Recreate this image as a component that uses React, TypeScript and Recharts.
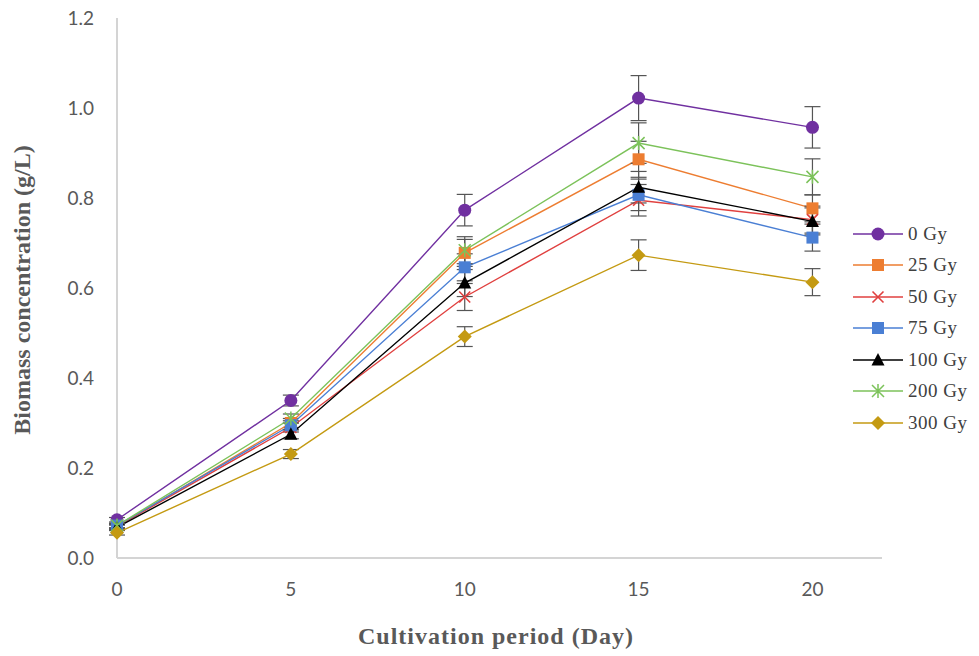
import React from 'react';
import { LineChart, Line, XAxis, YAxis, ErrorBar } from 'recharts';

const days = [0, 5, 10, 15, 20];
const seriesNames = ['0 Gy', '25 Gy', '50 Gy', '75 Gy', '100 Gy', '200 Gy', '300 Gy'];
const seriesColors = ['#7030a0', '#ed7d31', '#e0403f', '#4a7fd4', '#000000', '#7cc25a', '#c49a12'];
const seriesShapes = ['circle', 'square', 'cross', 'square', 'triangle', 'star', 'diamond'];

const gy0 = [0.085, 0.35, 0.773, 1.022, 0.957];
const gy25 = [0.07, 0.3, 0.678, 0.886, 0.777];
const gy50 = [0.07, 0.29, 0.58, 0.795, 0.752];
const gy75 = [0.072, 0.295, 0.646, 0.807, 0.712];
const gy100 = [0.068, 0.275, 0.611, 0.824, 0.748];
const gy200 = [0.072, 0.31, 0.684, 0.922, 0.847];
const gy300 = [0.056, 0.231, 0.492, 0.673, 0.613];

// standard deviations (error bars)
const sd0 = [0.005, 0.012, 0.035, 0.05, 0.046];
const sd25 = [0.005, 0.01, 0.03, 0.04, 0.03];
const sd50 = [0.005, 0.01, 0.03, 0.035, 0.03];
const sd75 = [0.005, 0.01, 0.03, 0.035, 0.03];
const sd100 = [0.005, 0.01, 0.03, 0.035, 0.03];
const sd200 = [0.005, 0.01, 0.03, 0.045, 0.04];
const sd300 = [0.005, 0.01, 0.022, 0.034, 0.03];

const yTicks = [0, 0.2, 0.4, 0.6, 0.8, 1.0, 1.2];
const xTicks = [0, 5, 10, 15, 20];

const values = [gy0, gy25, gy50, gy75, gy100, gy200, gy300];
const errors = [sd0, sd25, sd50, sd75, sd100, sd200, sd300];

const data = days.map((d, i) => {
  const row: Record<string, number> = { day: d };
  values.forEach((v, s) => {
    row[`s${s}`] = v[i];
    row[`e${s}`] = errors[s][i];
  });
  return row;
});

const Marker = ({ cx, cy, shape, color }: { cx: number; cy: number; shape: string; color: string }) => {
  switch (shape) {
    case 'circle':
      return <circle cx={cx} cy={cy} r={6.5} fill={color} />;
    case 'square':
      return <rect x={cx - 6} y={cy - 6} width={12} height={12} fill={color} />;
    case 'cross':
      return (
        <path d={`M${cx - 5.5},${cy - 5.5}L${cx + 5.5},${cy + 5.5}M${cx - 5.5},${cy + 5.5}L${cx + 5.5},${cy - 5.5}`} stroke={color} strokeWidth={1.6} fill="none" />
      );
    case 'triangle':
      return <path d={`M${cx},${cy - 7}L${cx + 6.5},${cy + 5.5}L${cx - 6.5},${cy + 5.5}Z`} fill={color} />;
    case 'star':
      return (
        <path
          d={`M${cx - 6},${cy - 6}L${cx + 6},${cy + 6}M${cx - 6},${cy + 6}L${cx + 6},${cy - 6}M${cx},${cy - 7}L${cx},${cy + 7}`}
          stroke={color}
          strokeWidth={1.5}
          fill="none"
        />
      );
    case 'diamond':
      return <path d={`M${cx},${cy - 7}L${cx + 7},${cy}L${cx},${cy + 7}L${cx - 7},${cy}Z`} fill={color} />;
    default:
      return null;
  }
};

const ChartLegend = () => (
  <div
    style={{
      position: 'absolute',
      left: 853,
      top: 218,
      fontFamily: '"Liberation Serif", serif',
      fontSize: 19,
      letterSpacing: 0.5,
      color: '#404040',
    }}
  >
    {seriesNames.map((name, i) => (
      <div key={name} style={{ display: 'flex', alignItems: 'center', height: 31.5 }}>
        <svg width={50} height={18} style={{ marginRight: 5 }}>
          <line x1={0} y1={9} x2={50} y2={9} stroke={seriesColors[i]} strokeWidth={1.5} />
          <Marker cx={25} cy={9} shape={seriesShapes[i]} color={seriesColors[i]} />
        </svg>
        <span>{name}</span>
      </div>
    ))}
  </div>
);

const titleStyle: React.CSSProperties = {
  position: 'absolute',
  whiteSpace: 'nowrap',
  fontFamily: '"Liberation Serif", serif',
  fontWeight: 'bold',
  fontSize: 24,
  color: '#595959',
};

export default function App() {
  return (
    <div style={{ position: 'absolute', left: 0, top: 0, width: 979, height: 656, background: '#fff' }}>
      <LineChart width={979} height={656} data={data} margin={{ top: 18, right: 97, bottom: 68, left: 57 }}>
        <XAxis
          dataKey="day"
          type="number"
          domain={[0, 22]}
          ticks={xTicks}
          tickLine={false}
          tickSize={0}
          tickMargin={25}
          stroke="#d4d4d4"
          strokeWidth={2}
          tick={{ fill: '#595959', fontSize: 19, fontFamily: 'Lato, sans-serif' }}
        />
        <YAxis
          type="number"
          domain={[0, 1.2]}
          ticks={yTicks}
          width={60}
          tickLine={false}
          tickSize={0}
          tickMargin={23}
          stroke="#d4d4d4"
          strokeWidth={2}
          tickFormatter={(v: number) => v.toFixed(1)}
          tick={{ fill: '#595959', fontSize: 19, fontFamily: 'Lato, sans-serif' }}
        />
        {seriesNames.map((name, s) => (
          <Line
            key={name}
            name={name}
            dataKey={`s${s}`}
            stroke={seriesColors[s]}
            strokeWidth={1.4}
            isAnimationActive={false}
            dot={(p: any) => <Marker key={`d${s}-${p.index}`} cx={p.cx} cy={p.cy} shape={seriesShapes[s]} color={seriesColors[s]} />}
            activeDot={false}
          >
            <ErrorBar dataKey={`e${s}`} direction="y" width={8} stroke="#555" strokeWidth={1.2} />
          </Line>
        ))}
      </LineChart>
      <ChartLegend />
      <div style={{ ...titleStyle, left: 22, top: 290, transform: 'translate(-50%, -50%) rotate(-90deg)' }}>
        Biomass concentration (g/L)
      </div>
      <div style={{ ...titleStyle, left: 496, top: 636, letterSpacing: 1, transform: 'translate(-50%, -50%)' }}>
        Cultivation period (Day)
      </div>
    </div>
  );
}
